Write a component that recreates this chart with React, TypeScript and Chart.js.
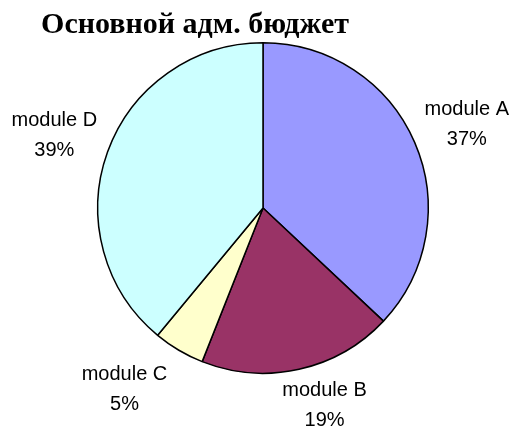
import React, { useEffect, useRef } from "react";
import { Chart, registerables } from "chart.js";

Chart.register(...registerables);

const titleText = "Основной адм. бюджет";
const categories = ["module A", "module B", "module C", "module D"];
const values = [37, 19, 5, 39];
const colors = ["#9999FF", "#993366", "#FFFFCC", "#CCFFFF"];

// label placement tweaks (angle shift in degrees, radius factor) per slice
const labelAngleShift = [1, -4.7, 6.8, -0.6];
const labelRadiusFactor = [1.334, 1.253, 1.38, 1.337];

const labelPlugin = {
  id: "sliceLabels",
  afterDraw(chart: any) {
    const ctx = chart.ctx;
    const meta = chart.getDatasetMeta(0);
    const data = chart.data.datasets[0].data as number[];
    const total = data.reduce((a, b) => a + b, 0);
    ctx.save();
    ctx.fillStyle = "#000";
    ctx.font = "20px 'Liberation Sans', Arial, sans-serif";
    ctx.textAlign = "center";
    ctx.textBaseline = "middle";
    meta.data.forEach((arc: any, i: number) => {
      const p = arc.getProps(["x", "y", "startAngle", "endAngle", "outerRadius"], true);
      const mid = (p.startAngle + p.endAngle) / 2 + (labelAngleShift[i] * Math.PI) / 180;
      const r = p.outerRadius * labelRadiusFactor[i];
      const cx = p.x + Math.cos(mid) * r;
      const cy = p.y + Math.sin(mid) * r;
      const pct = Math.round((data[i] / total) * 100) + "%";
      ctx.fillText(String(chart.data.labels[i]), cx, cy - 15);
      ctx.fillText(pct, cx, cy + 15);
    });
    // title
    ctx.font = "bold 30px 'Liberation Serif', 'Times New Roman', serif";
    ctx.textBaseline = "alphabetic";
    ctx.fillText(titleText, 195, 33);
    ctx.restore();
  },
};

export default function App() {
  const ref = useRef<HTMLCanvasElement>(null);
  useEffect(() => {
    document.body.style.margin = "0";
    const chart = new Chart(ref.current!, {
      type: "pie",
      data: {
        labels: categories,
        datasets: [
          {
            data: values,
            backgroundColor: colors,
            borderColor: "#000",
            borderWidth: 1.5,
          },
        ],
      },
      options: {
        responsive: false,
        animation: false,
        layout: { padding: { top: 42, bottom: 58, left: 97, right: 86 } },
        plugins: {
          legend: { display: false },
          tooltip: { enabled: false },
          title: { display: false },
        },
      },
      plugins: [labelPlugin],
    });
    return () => chart.destroy();
  }, []);
  return (
    <div style={{ width: 515, height: 432, background: "#fff" }}>
      <canvas ref={ref} width={515} height={432} style={{ display: "block" }} />
    </div>
  );
}
